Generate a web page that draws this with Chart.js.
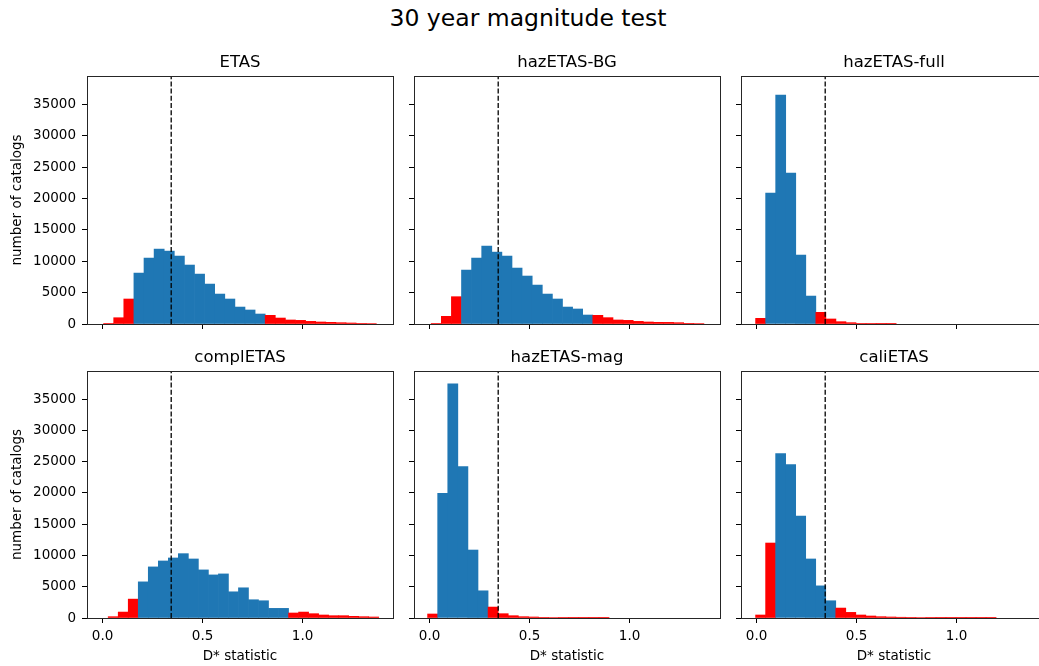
<!DOCTYPE html>
<html>
<head>
<meta charset="utf-8">
<title>30 year magnitude test</title>
<script src="https://cdn.jsdelivr.net/npm/chart.js@4.4.1/dist/chart.umd.min.js"></script>
<style>
  body { margin: 0; width: 1039px; height: 666px; overflow: hidden; background: #fff; position: relative; font-family: "DejaVu Sans", sans-serif; }
  canvas { position: absolute; }
  #suptitle { position: absolute; left: 0; top: 7px; width: 1056px; text-align: center; font-size: 23.5px; line-height: 23px; color: #000; }
</style>
</head>
<body>
<div id="suptitle">30 year magnitude test</div>
<canvas id="c0"></canvas>
<canvas id="c1"></canvas>
<canvas id="c2"></canvas>
<canvas id="c3"></canvas>
<canvas id="c4"></canvas>
<canvas id="c5"></canvas>
<script>
// Models, in panel order (row by row)
const modelNames = ["ETAS", "hazETAS-BG", "hazETAS-full", "complETAS", "hazETAS-mag", "caliETAS"];

// Histogram bins: left edge of the first bin and bin width for each model
const binStarts = [0.005, 0.008, -0.005, 0.028, -0.010, -0.005];
const binWidths = [0.0505, 0.0505, 0.0502, 0.0501, 0.0504, 0.0501];

// Number of catalogs per bin
const etasCounts = [100, 1000, 3980, 8110, 10500, 11930, 11610, 10820, 9390, 7950, 6360, 4770, 3980, 2700, 2230, 1590, 1380, 950, 640, 580, 420, 320, 270, 210, 160, 100, 80];
const hazBgCounts = [100, 1220, 4350, 8590, 10500, 12410, 11450, 10820, 8910, 7640, 6200, 4770, 3980, 2700, 2390, 1430, 1380, 1010, 640, 580, 420, 320, 270, 260, 210, 110, 80];
const hazFullCounts = [900, 20840, 36480, 24020, 10980, 4450, 1860, 800, 370, 210, 100, 60, 40, 30];
const complCounts = [210, 950, 3020, 5780, 8170, 9120, 9600, 10290, 9440, 7690, 6890, 7050, 4190, 4830, 2920, 2760, 1540, 1540, 800, 950, 690, 480, 370, 370, 270, 210, 160];
const hazMagCounts = [640, 19940, 37440, 24230, 10870, 4350, 1750, 690, 370, 210, 160, 100, 80, 60, 50, 40, 30, 30];
const caliCounts = [480, 11990, 26300, 24550, 16280, 9440, 5140, 2760, 1590, 900, 480, 320, 210, 160, 120, 100, 80, 60, 50, 40, 40, 30, 30, 20];
const allCounts = [etasCounts, hazBgCounts, hazFullCounts, complCounts, hazMagCounts, caliCounts];

// First and last bin inside the confidence range (blue); the rest are red
const blueRanges = [[3, 15], [3, 15], [1, 5], [3, 17], [1, 5], [2, 7]];

// Observed D* statistic (dashed line)
const observedStat = 0.343;

// Axes
const xRange = [-0.078, 1.452];
const yMax = 39500;
const xTickValues = [0, 0.5, 1.0];
const yTickValues = [0, 5000, 10000, 15000, 20000, 25000, 30000, 35000];

// Panel placement on the page (chart area edges)
const colLeft = [87, 414, 741];
const colRight = [393, 720, 1047];
const rowTop = [76, 371];
const rowBottom = [324, 618];
const titleBlock = 36;

const FONT = "DejaVu Sans";
const blue = "#1f77b4";
const red = "#ff0000";

// Draws the four spines over the bars
const framePlugin = {
  id: "frame",
  afterDatasetsDraw(chart) {
    const { ctx, chartArea: a } = chart;
    ctx.save();
    ctx.strokeStyle = "#262626";
    ctx.lineWidth = 1;
    ctx.strokeRect(Math.round(a.left) + 0.5, Math.round(a.top) + 0.5,
      Math.round(a.right - a.left), Math.round(a.bottom - a.top));
    ctx.restore();
  }
};

// keep tick labels from pushing the plot area in
function noPadding(s) {
  s.paddingTop = 0;
  s.paddingBottom = 0;
  s.paddingLeft = 0;
  s.paddingRight = 0;
}

function makePanel(i) {
  const row = Math.floor(i / 3);
  const col = i % 3;
  const counts = allCounts[i];
  const [b0, b1] = blueRanges[i];

  const bins = counts.map((c, k) => ({ x: binStarts[i] + binWidths[i] * (k + 0.5), y: c }));
  const colours = counts.map((c, k) => (k >= b0 && k <= b1 ? blue : red));

  // canvas geometry
  const yW = col === 0 ? 87 : 10;
  const xH = row === 1 ? 48 : 8;
  const left = colLeft[col] - yW;
  const top = rowTop[row] - titleBlock;
  const width = colRight[col] - left + 3;
  const height = titleBlock + (rowBottom[row] - rowTop[row]) + xH + (row === 0 ? 4 : 0);

  const canvas = document.getElementById("c" + i);
  canvas.width = width;
  canvas.height = height;
  canvas.style.left = left + "px";
  canvas.style.top = top + "px";

  new Chart(canvas, {
    type: "bar",
    data: {
      datasets: [
        {
          type: "bar",
          data: bins,
          backgroundColor: colours,
          borderWidth: 0,
          barPercentage: 1,
          categoryPercentage: 1,
          order: 2
        },
        {
          type: "line",
          data: [{ x: observedStat, y: 0 }, { x: observedStat, y: yMax }],
          borderColor: "#000",
          borderWidth: 1.3,
          borderDash: [5, 2.2],
          pointRadius: 0,
          fill: false,
          order: 1
        }
      ]
    },
    options: {
      responsive: false,
      animation: false,
      events: [],
      devicePixelRatio: 1,
      layout: { padding: { left: 0, right: 3, top: 0, bottom: row === 0 ? 4 : 0 } },
      plugins: {
        legend: { display: false },
        tooltip: { enabled: false },
        title: {
          display: true,
          fullSize: false,
          text: modelNames[i],
          color: "#000",
          font: { family: FONT, size: 16.5, weight: "normal", lineHeight: 1.2 },
          padding: { top: 12.5, bottom: 3.7 }
        }
      },
      scales: {
        x: {
          type: "linear",
          min: xRange[0],
          max: xRange[1],
          offset: false,
          border: { display: false },
          grid: { offset: false, drawOnChartArea: false, drawTicks: true, tickLength: 5, tickColor: "#000", tickWidth: 1 },
          ticks: {
            display: row === 1,
            color: "#000",
            padding: 5,
            font: { family: FONT, size: 13.5 },
            callback: v => v.toFixed(1)
          },
          title: {
            display: row === 1,
            text: "D* statistic",
            color: "#000",
            font: { family: FONT, size: 13.5 },
            padding: { top: 0, bottom: 1.5 }
          },
          afterBuildTicks: s => { s.ticks = xTickValues.map(v => ({ value: v })); },
          afterFit: s => { s.height = xH; noPadding(s); }
        },
        y: {
          min: 0,
          max: yMax,
          border: { display: false },
          grid: { drawOnChartArea: false, drawTicks: true, tickLength: 5, tickColor: "#000", tickWidth: 1 },
          ticks: {
            display: col === 0,
            color: "#000",
            padding: 6,
            font: { family: FONT, size: 13.5 },
            callback: v => String(v)
          },
          title: {
            display: col === 0,
            text: "number of catalogs",
            color: "#000",
            font: { family: FONT, size: 13.5 },
            padding: { top: 9, bottom: 0 }
          },
          afterBuildTicks: s => { s.ticks = yTickValues.map(v => ({ value: v })); },
          afterFit: s => { s.width = yW; noPadding(s); }
        }
      }
    },
    plugins: [framePlugin]
  });
}

for (let i = 0; i < modelNames.length; i++) makePanel(i);
</script>
</body>
</html>
